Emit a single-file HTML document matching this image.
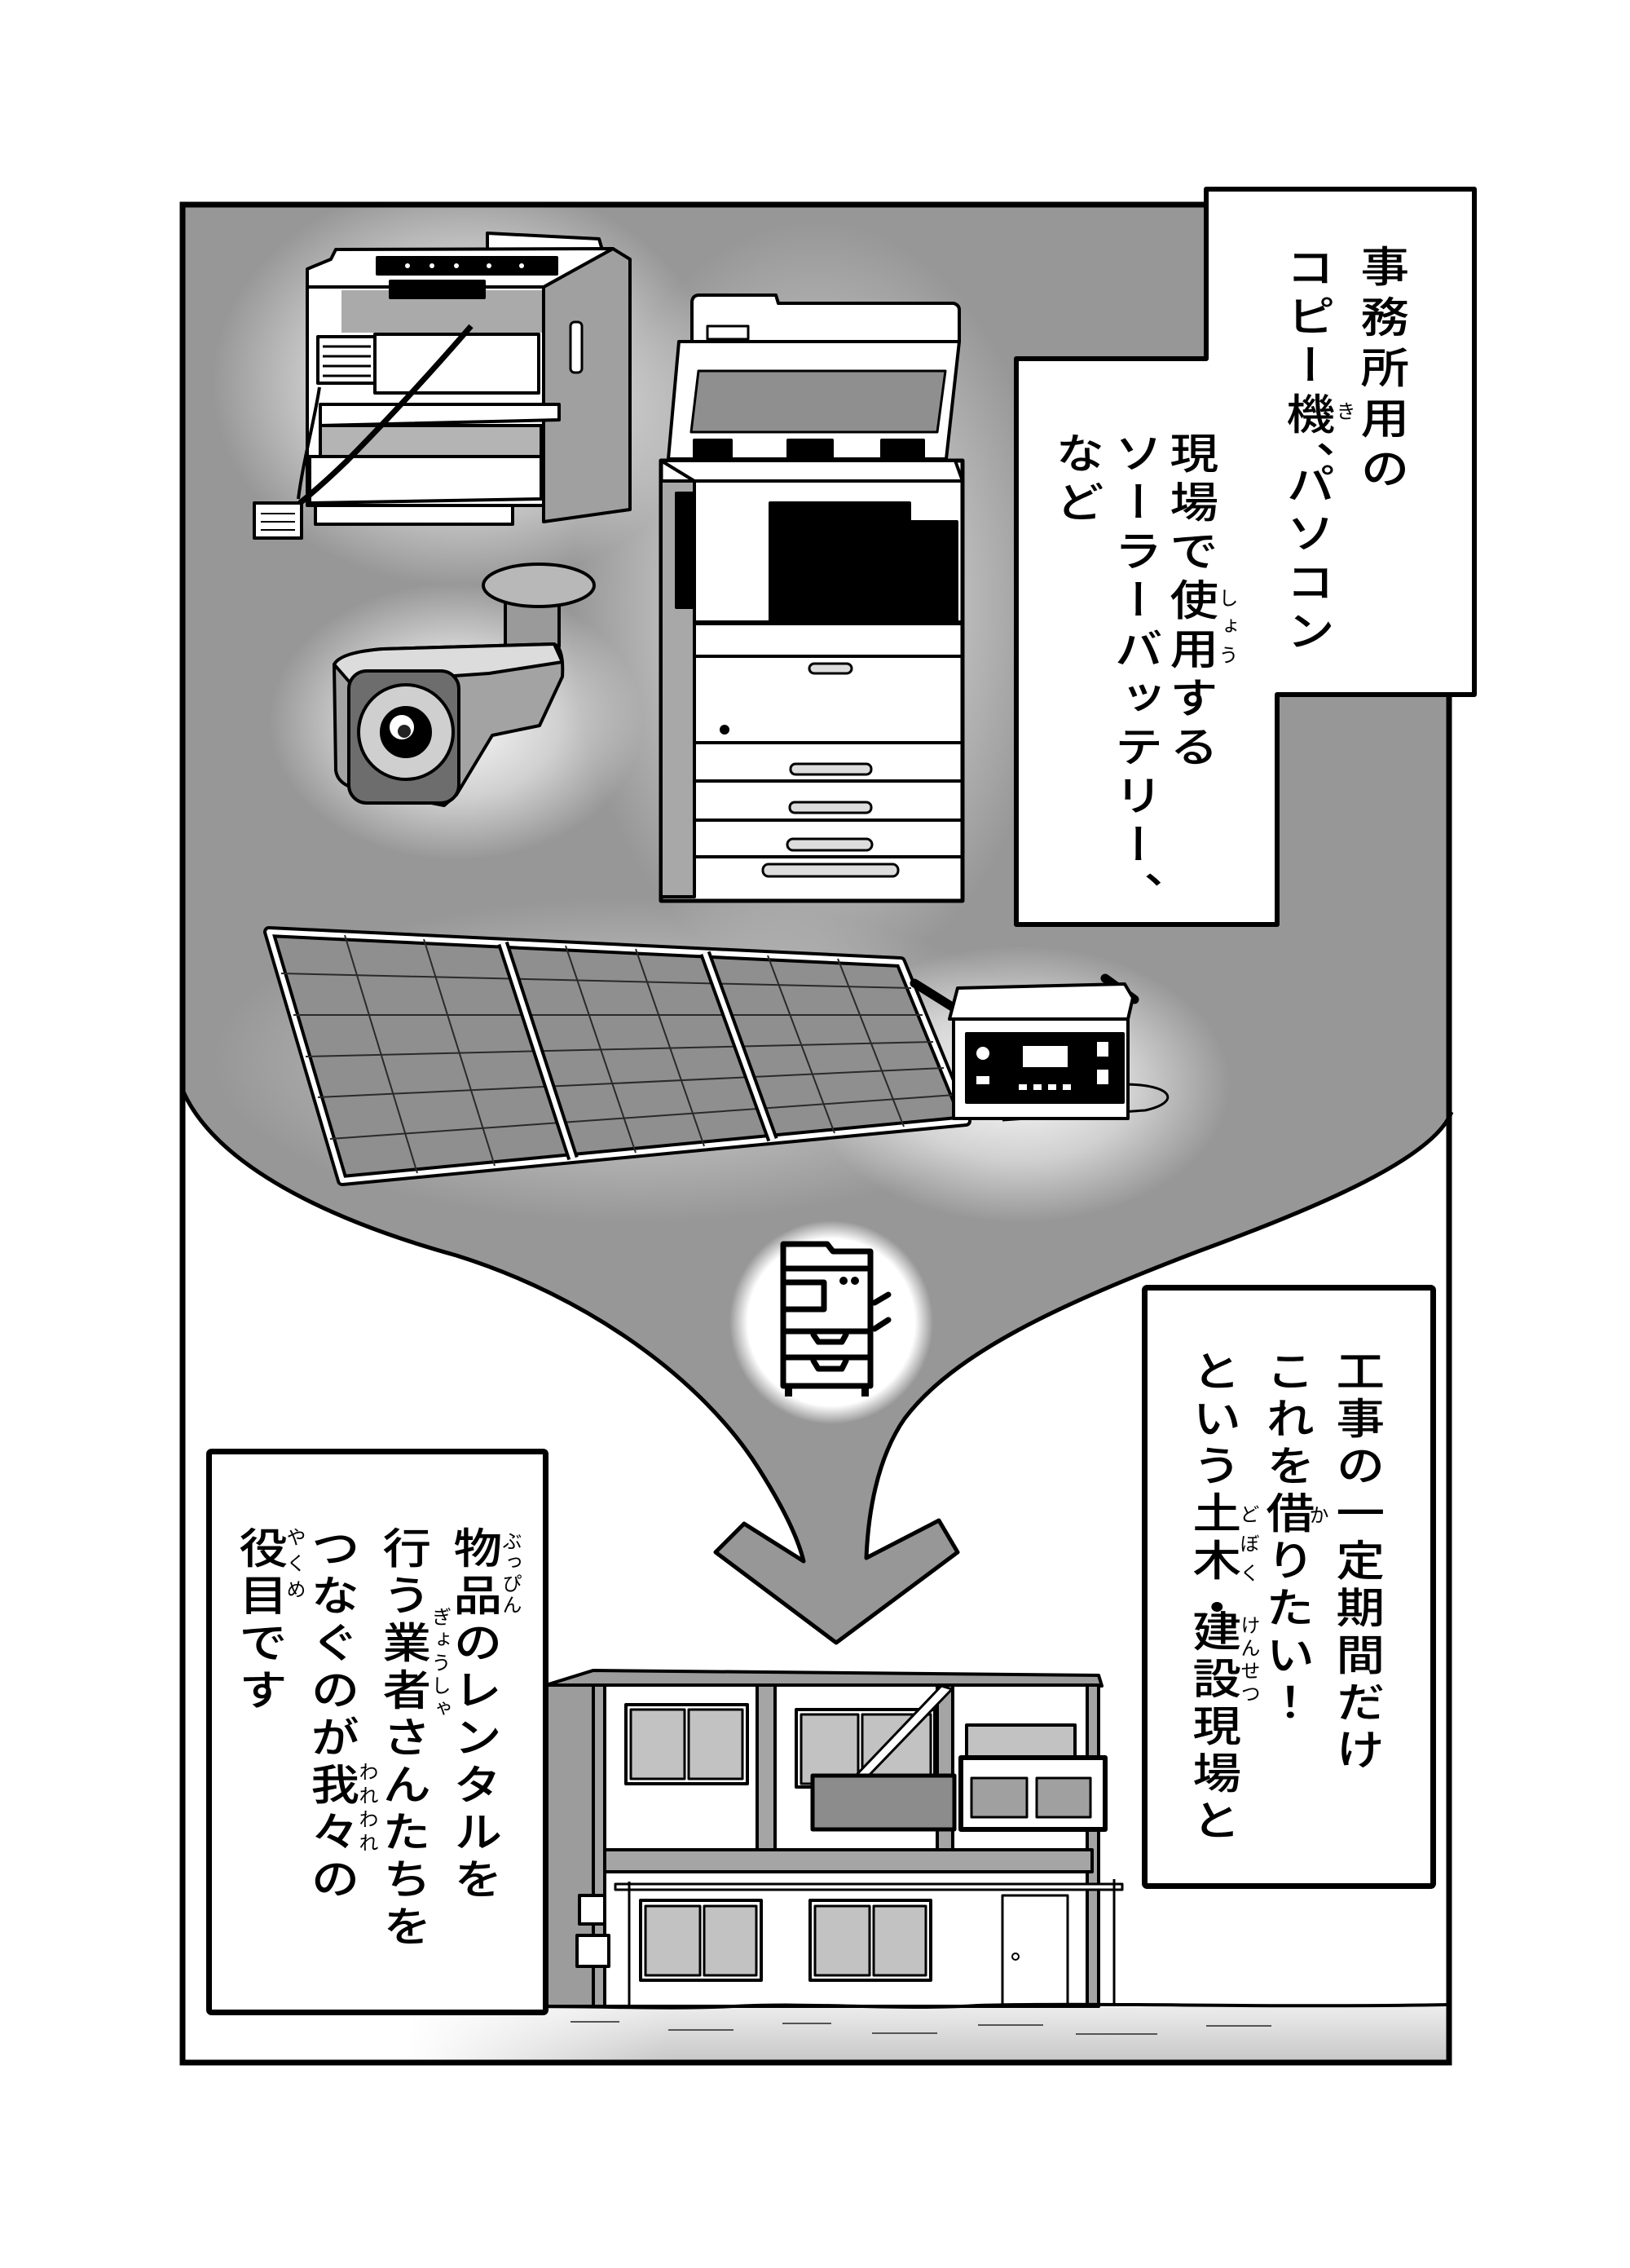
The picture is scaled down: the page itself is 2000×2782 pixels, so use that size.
<!DOCTYPE html>
<html><head><meta charset="utf-8">
<style>
html,body{margin:0;padding:0;background:#fff;}
body{width:2000px;height:2782px;position:relative;overflow:hidden;}
svg{position:absolute;left:0;top:0;}
.c{position:absolute;writing-mode:vertical-rl;font-family:"Liberation Sans","Noto Sans CJK JP",sans-serif;color:#000;white-space:nowrap;}
.m{font-size:52px;line-height:52px;width:52px;font-weight:500;transform:scaleX(1.15);transform-origin:50% 0;}
.r{font-size:24px;line-height:24px;width:24px;}
</style></head><body>
<svg width="2000" height="2782" viewBox="0 0 2000 2782">
<defs>
<radialGradient id="gl" cx="50%" cy="50%" r="50%">
<stop offset="0" stop-color="#fff" stop-opacity="0.95"/>
<stop offset="0.55" stop-color="#fff" stop-opacity="0.55"/>
<stop offset="1" stop-color="#fff" stop-opacity="0"/>
</radialGradient>
<radialGradient id="ic" cx="50%" cy="50%" r="50%">
<stop offset="0" stop-color="#fff" stop-opacity="1"/>
<stop offset="0.82" stop-color="#fff" stop-opacity="1"/>
<stop offset="1" stop-color="#fff" stop-opacity="0"/>
</radialGradient>
<linearGradient id="gr" x1="0" y1="0" x2="0" y2="1">
<stop offset="0" stop-color="#ececec"/>
<stop offset="1" stop-color="#c9c9c9"/>
</linearGradient>
<linearGradient id="gh" x1="0" y1="0" x2="1" y2="0">
<stop offset="0" stop-color="#fff" stop-opacity="1"/>
<stop offset="1" stop-color="#fff" stop-opacity="0"/>
</linearGradient>
<clipPath id="fc"><path d="M224,251 L1781,251 L1781,1364 C1760,1420 1620,1480 1470,1535 C1300,1600 1170,1660 1110,1740 C1075,1790 1065,1860 1063,1911 L1152,1865 L1175,1904 L1026,2015 L878,1904 L913,1869 L986,1915 C980,1890 965,1855 930,1800 C860,1690 720,1590 560,1540 C380,1490 260,1420 224,1337 Z"/></clipPath>
</defs>

<!-- gray funnel region -->
<path d="M224,251 L1781,251 L1781,1364 C1760,1420 1620,1480 1470,1535 C1300,1600 1170,1660 1110,1740 C1075,1790 1065,1860 1063,1911 L1152,1865 L1175,1904 L1026,2015 L878,1904 L913,1869 L986,1915 C980,1890 965,1855 930,1800 C860,1690 720,1590 560,1540 C380,1490 260,1420 224,1337 Z" fill="#979797"/>
<g clip-path="url(#fc)">
<ellipse cx="570" cy="470" rx="310" ry="250" fill="url(#gl)"/>
<ellipse cx="560" cy="885" rx="230" ry="170" fill="url(#gl)"/>
<ellipse cx="1000" cy="740" rx="300" ry="470" fill="url(#gl)" opacity="0.7"/>
<ellipse cx="1250" cy="1330" rx="260" ry="170" fill="url(#gl)"/>
<ellipse cx="780" cy="1300" rx="520" ry="200" fill="url(#gl)" opacity="0.5"/>
<circle cx="1020" cy="1622" r="125" fill="url(#ic)"/>
</g>
<path d="M1781,1364 C1760,1420 1620,1480 1470,1535 C1300,1600 1170,1660 1110,1740 C1075,1790 1065,1860 1063,1911 L1152,1865 L1175,1904 L1026,2015 L878,1904 L913,1869 L986,1915 C980,1890 965,1855 930,1800 C860,1690 720,1590 560,1540 C380,1490 260,1420 224,1337" fill="none" stroke="#000" stroke-width="5" stroke-linejoin="round"/>

<!-- printer -->
<g stroke="#000" stroke-width="4" stroke-linejoin="round">
<polygon points="598,286 735,293 740,310 598,306" fill="#fff"/>
<polygon points="667,352 752,305 773,318 773,625 667,640" fill="#a0a0a0"/>
<rect x="700" y="395" width="14" height="62" rx="5" fill="#fff" stroke-width="3"/>
<polygon points="377,352 377,330 406,318 412,306 752,305 667,352" fill="#fff"/>
<rect x="463" y="316" width="220" height="20" fill="#000"/>
<rect x="377" y="352" width="290" height="268" fill="#fff"/>
<rect x="419" y="356" width="246" height="52" fill="#aaaaaa" stroke="none"/>
<rect x="479" y="345" width="115" height="20" fill="#000"/>
<rect x="460" y="410" width="201" height="72" fill="#fff"/>
<rect x="390" y="413" width="70" height="57" fill="#fff"/>
<path d="M396,425 H455 M396,437 H455 M396,449 H455 M396,461 H455" stroke-width="3" fill="none"/>
<polygon points="393,496 686,496 686,515 393,522" fill="#fff"/>
<rect x="393" y="522" width="271" height="38" fill="#b4b4b4"/>
<polygon points="380,560 664,560 664,612 380,617" fill="#fff"/>
<rect x="387" y="620" width="242" height="23" fill="#fff"/>
<path d="M578,400 Q500,490 425,566 Q395,595 368,617" fill="none" stroke-width="7"/>
<path d="M392,475 C385,520 372,565 366,612" fill="none" stroke-width="4"/>
<rect x="312" y="617" width="58" height="43" fill="#fff"/>
<path d="M320,630 H362 M320,640 H362 M320,650 H362" stroke-width="2" fill="none"/>
</g>
<g fill="#fff"><circle cx="500" cy="326" r="3"/><circle cx="530" cy="326" r="3"/><circle cx="560" cy="326" r="3"/><circle cx="600" cy="326" r="3"/><circle cx="640" cy="326" r="3"/></g>

<!-- camera -->
<g stroke="#000" stroke-width="4" stroke-linejoin="round">
<rect x="620" y="735" width="66" height="58" fill="#9a9a9a"/>
<ellipse cx="661" cy="718" rx="68" ry="26" fill="#b8b8b8"/>
<path d="M410,815 Q418,800 470,796 L680,790 Q692,795 690,830 L662,890 L604,902 L560,975 L545,988 L432,966 Q414,960 412,945 Z" fill="#a3a3a3"/>
<path d="M410,815 Q418,800 470,796 L680,790 L690,812 L600,826 L430,838 Z" fill="#dcdcdc"/>
<rect x="428" y="823" width="135" height="162" rx="22" fill="#6d6d6d"/>
<circle cx="498" cy="898" r="58" fill="#cfcfcf"/>
<circle cx="498" cy="898" r="30" fill="#000"/>
</g>
<circle cx="493" cy="892" r="15" fill="#fff"/>
<circle cx="496" cy="897" r="8" fill="#222"/>

<!-- copier -->
<g stroke="#000" stroke-width="4" stroke-linejoin="round">
<path d="M849,419 L849,370 Q850,362 858,362 L952,362 L955,372 L1170,372 Q1177,374 1177,380 L1177,419 Z" fill="#fff"/>
<rect x="868" y="400" width="50" height="16" fill="#fff" stroke-width="3"/>
<polygon points="833,419 1177,419 1161,563 820,563" fill="#fff"/>
<polygon points="857,455 1160,455 1150,530 848,530" fill="#8f8f8f" stroke-width="3"/>
<rect x="852" y="540" width="45" height="23" fill="#000"/>
<rect x="967" y="540" width="54" height="23" fill="#000"/>
<rect x="1082" y="540" width="51" height="23" fill="#000"/>
<rect x="811" y="565" width="370" height="540" fill="#fff" stroke-width="5"/>
<rect x="811" y="590" width="41" height="510" fill="#a8a8a8"/>
<polygon points="811,565 1172,565 1181,590 852,590" fill="#fff"/>
<rect x="830" y="605" width="22" height="140" fill="#000"/>
<rect x="945" y="640" width="229" height="124" fill="#000"/>
<rect x="945" y="617" width="171" height="30" fill="#000"/>
<path d="M852,764 H1181" stroke-width="6"/>
<path d="M852,805 H1181 M852,911 H1181 M852,958 H1181 M852,1006 H1181 M852,1051 H1181" stroke-width="4"/>
<rect x="993" y="814" width="52" height="12" rx="6" fill="#ddd" stroke-width="3"/>
<rect x="970" y="937" width="99" height="13" rx="6" fill="#ddd" stroke-width="3"/>
<rect x="969" y="984" width="100" height="13" rx="6" fill="#ddd" stroke-width="3"/>
<rect x="966" y="1029" width="104" height="14" rx="7" fill="#ddd" stroke-width="3"/>
<rect x="936" y="1060" width="166" height="15" rx="7" fill="#ddd" stroke-width="3"/>
</g>
<circle cx="889" cy="895" r="6" fill="#000"/>

<!-- solar panel -->
<g stroke-linejoin="round">
<polygon points="330,1143 1105,1180 1185,1375 420,1448" fill="#8f8f8f" stroke="#000" stroke-width="14"/>
<polygon points="330,1143 1105,1180 1185,1375 420,1448" fill="none" stroke="#fff" stroke-width="6"/>
<g stroke="#2a2a2a" stroke-width="2" fill="none">
<path d="M345,1194 L1118,1212 M360,1245 L1132,1245 M375,1296 L1145,1278 M390,1346 L1158,1310 M405,1397 L1172,1343"/>
<path d="M423,1147 L512,1439 M520,1152 L607,1430 M694,1160 L780,1414 M780,1164 L864,1406 M942,1172 L1024,1390 M1028,1176 L1109,1382"/>
</g>
<path d="M617,1157 L703,1421 M865,1169 L948,1398" stroke="#000" stroke-width="14"/>
<path d="M617,1157 L703,1421 M865,1169 L948,1398" stroke="#fff" stroke-width="6"/>
</g>

<!-- battery -->
<g stroke="#000" stroke-width="4" stroke-linejoin="round">
<path d="M1378,1330 C1440,1330 1450,1352 1405,1362 L1230,1374" fill="none" stroke-width="3"/>
<path d="M1122,1206 L1170,1236" stroke-width="11" stroke-linecap="round"/>
<path d="M1356,1200 L1392,1226" stroke-width="11" stroke-linecap="round"/>
<polygon points="1165,1250 1175,1212 1380,1207 1390,1224 1384,1250" fill="#fff"/>
<rect x="1170" y="1250" width="214" height="122" fill="#fff"/>
<rect x="1186" y="1268" width="192" height="84" fill="#000"/>
</g>
<g fill="#fff">
<rect x="1255" y="1283" width="55" height="26"/>
<circle cx="1206" cy="1292" r="8"/>
<rect x="1198" y="1320" width="16" height="10"/>
<rect x="1346" y="1278" width="14" height="18"/>
<rect x="1346" y="1312" width="14" height="18"/>
<rect x="1250" y="1330" width="10" height="7"/><rect x="1268" y="1330" width="10" height="7"/><rect x="1286" y="1330" width="10" height="7"/><rect x="1304" y="1330" width="10" height="7"/>
</g>

<!-- icon -->
<g fill="none" stroke="#000" stroke-width="7" stroke-linejoin="round" stroke-linecap="round">
<path d="M961,1700 L961,1526 L1015,1526 L1022,1535 L1068,1535 L1068,1700 Z"/>
<path d="M961,1556 H1068 M961,1633 H1068 M961,1665 H1068"/>
<path d="M964,1573 H1011 V1606 H964"/>
<path d="M998,1637 L1004,1646 L1033,1646 L1038,1637 M998,1669 L1004,1679 L1033,1679 L1038,1669"/>
<path d="M1073,1598 L1090,1588 M1073,1630 L1090,1619"/>
</g>
<g fill="#000"><circle cx="1035" cy="1571" r="5"/><circle cx="1049" cy="1571" r="5"/>
<rect x="963" y="1700" width="9" height="13"/><rect x="1057" y="1700" width="9" height="13"/></g>

<!-- ground -->
<rect x="500" y="2462" width="1278" height="65" fill="url(#gr)"/>
<rect x="500" y="2462" width="320" height="65" fill="url(#gh)"/>
<g stroke="#555" stroke-width="2">
<path d="M700,2480 H760 M820,2490 H900 M960,2482 H1020 M1070,2494 H1150 M1200,2484 H1280 M1320,2495 H1420 M1480,2485 H1560"/>
</g>

<!-- building -->
<g stroke="#000" stroke-width="4" stroke-linejoin="round">
<polygon points="670,2067 728,2049 728,2461 670,2461" fill="#9c9c9c"/>
<polygon points="670,2067 728,2049 1348,2055 1352,2068 728,2067" fill="#9c9c9c"/>
<rect x="728" y="2067" width="612" height="394" fill="#fff"/>
<rect x="728" y="2067" width="14" height="394" fill="#a5a5a5"/>
<rect x="929" y="2067" width="22" height="202" fill="#a5a5a5"/>
<rect x="1150" y="2067" width="19" height="202" fill="#a5a5a5"/>
<rect x="1334" y="2067" width="14" height="394" fill="#a5a5a5"/>
<rect x="742" y="2269" width="598" height="27" fill="#a5a5a5"/>
<rect x="768" y="2091" width="149" height="97" fill="#fff"/>
<rect x="774" y="2097" width="66" height="85" fill="#c2c2c2" stroke-width="3"/>
<rect x="845" y="2097" width="66" height="85" fill="#c2c2c2" stroke-width="3"/>
<rect x="977" y="2097" width="170" height="95" fill="#fff"/>
<rect x="983" y="2103" width="70" height="85" fill="#c2c2c2" stroke-width="3"/>
<rect x="1058" y="2103" width="84" height="85" fill="#c2c2c2" stroke-width="3"/>
<polygon points="1050,2178 1155,2068 1168,2072 1064,2180" fill="#fff" stroke-width="3"/>
<rect x="1186" y="2116" width="133" height="42" fill="#c2c2c2"/>
<rect x="997" y="2178" width="174" height="66" fill="#8c8c8c" stroke-width="5"/>
<rect x="1179" y="2156" width="177" height="88" fill="#fff" stroke-width="6"/>
<rect x="1192" y="2181" width="68" height="48" fill="#a0a0a0" stroke-width="3"/>
<rect x="1272" y="2181" width="66" height="48" fill="#a0a0a0" stroke-width="3"/>
<rect x="755" y="2311" width="622" height="7" fill="#fff" stroke-width="3"/>
<path d="M772,2308 V2461 M1367,2305 V2461" stroke-width="3"/>
<rect x="786" y="2331" width="148" height="98" fill="#fff"/>
<rect x="792" y="2338" width="67" height="85" fill="#c2c2c2" stroke-width="3"/>
<rect x="864" y="2338" width="64" height="85" fill="#c2c2c2" stroke-width="3"/>
<rect x="994" y="2331" width="148" height="98" fill="#fff"/>
<rect x="1000" y="2338" width="67" height="85" fill="#c2c2c2" stroke-width="3"/>
<rect x="1072" y="2338" width="64" height="85" fill="#c2c2c2" stroke-width="3"/>
<rect x="1230" y="2325" width="80" height="136" fill="#fff" stroke-width="3"/>
<circle cx="1246" cy="2400" r="4" fill="#fff" stroke-width="2"/>
<rect x="711" y="2325" width="31" height="35" fill="#fff"/>
<rect x="708" y="2374" width="39" height="38" fill="#fff"/>
<path d="M600,2463 C700,2458 800,2466 900,2461 C1000,2456 1100,2466 1200,2460 C1350,2456 1550,2463 1778,2459" fill="none" stroke-width="4"/>
</g>

<!-- text boxes -->
<polygon points="1480,232 1809,232 1809,852 1567,852 1567,1134 1247,1134 1247,440 1480,440" fill="#fff" stroke="#000" stroke-width="6" stroke-linejoin="round"/>
<rect x="1404.5" y="1579.5" width="354" height="734" fill="#fff" stroke="#000" stroke-width="7" rx="3"/>
<rect x="256.5" y="1780.5" width="413" height="688" fill="#fff" stroke="#000" stroke-width="7" rx="3"/>

<!-- frame -->
<path d="M1480,251 L224,251 L224,2530 L1778,2530 L1778,852" fill="none" stroke="#000" stroke-width="7"/>
</svg>

<!-- top box text -->
<div class="c m" style="left:1667px;top:300px;letter-spacing:10px">事務所用の</div>
<div class="c m" style="left:1576px;top:301px;letter-spacing:8px">コピー機<span style="letter-spacing:-26px">、</span>パソコン</div>
<div class="c r" style="left:1636px;top:492px">き</div>
<div class="c m" style="left:1433px;top:529px;letter-spacing:8px">現場で使用する</div>
<div class="c r" style="left:1492px;top:721px;letter-spacing:11px">しょう</div>
<div class="c m" style="left:1365px;top:529px;letter-spacing:8px">ソーラーバッテリー、</div>
<div class="c m" style="left:1293px;top:529px;letter-spacing:8px">など</div>

<!-- right box text -->
<div class="c m" style="left:1637px;top:1655px;letter-spacing:6px">工事の一定期間だけ</div>
<div class="c m" style="left:1551px;top:1655px;letter-spacing:6px">これを借りたい！</div>
<div class="c m" style="left:1461px;top:1655px;letter-spacing:6px">という土木<span style="letter-spacing:-23px">・</span>建設現場と</div>
<div class="c r" style="left:1603px;top:1846px">か</div>
<div class="c r" style="left:1518px;top:1845px;letter-spacing:12px">どぼく</div>
<div class="c r" style="left:1519px;top:1981px;letter-spacing:4px">けんせつ</div>

<!-- left box text -->
<div class="c m" style="left:554px;top:1872px;letter-spacing:6px">物品のレンタルを</div>
<div class="c m" style="left:467px;top:1872px;letter-spacing:6px">行う業者さんたちを</div>
<div class="c m" style="left:379px;top:1872px;letter-spacing:6px">つなぐのが我々の</div>
<div class="c m" style="left:291px;top:1872px;letter-spacing:6px">役目です</div>
<div class="c r" style="left:613px;top:1878px;letter-spacing:2px">ぶっぴん</div>
<div class="c r" style="left:526px;top:1971px;letter-spacing:4px">ぎょうしゃ</div>
<div class="c r" style="left:437px;top:2161px;letter-spacing:5px">われわれ</div>
<div class="c r" style="left:348px;top:1873px;letter-spacing:8px">やくめ</div>
</body></html>
